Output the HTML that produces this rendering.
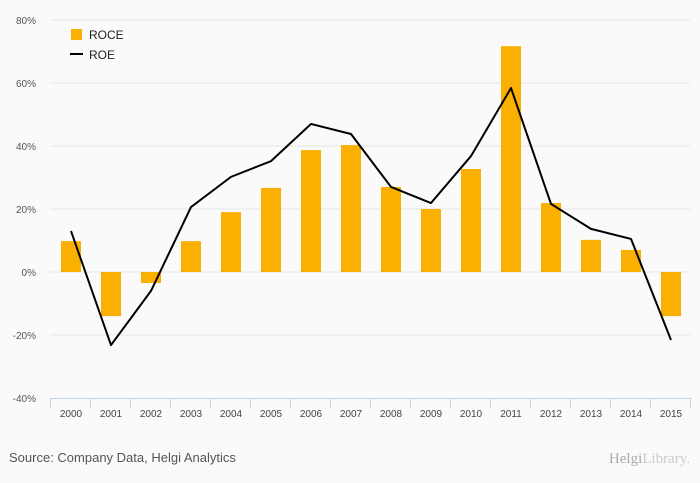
<!DOCTYPE html>
<html><head><meta charset="utf-8"><style>
body{margin:0;background:#fafafa;font-family:"Liberation Sans",sans-serif}
svg{display:block}
</style></head><body>
<svg width="700" height="483" id="c">
<rect width="700" height="483" fill="#fafafa"/>
<g id="grid"></g><g id="bars"></g><g id="line"></g><g id="axis"></g>
<g>
<rect x="71" y="29" width="11" height="11" fill="#f9b000"/>
<text x="89" y="39" font-size="12" fill="#222">ROCE</text>
<line x1="70" y1="54" x2="83" y2="54" stroke="#000" stroke-width="2"/>
<text x="89" y="59" font-size="12" fill="#222">ROE</text>
</g>
<text x="9" y="462" font-size="13" fill="#555">Source: Company Data, Helgi Analytics</text>
<text x="690" y="463" font-size="15" fill="#aaa" text-anchor="end" font-family="Liberation Serif,serif">Helgi<tspan fill="#ccc">Library.</tspan></text>
</svg>
<script>
const categories=["2000","2001","2002","2003","2004","2005","2006","2007","2008","2009","2010","2011","2012","2013","2014","2015"];
const roce=[9.8,-14,-3.5,9.8,19,26.7,38.7,40.3,27,20,32.7,71.7,21.9,10.2,7,-14];
const roe=[13,-23.2,-6,20.6,30.2,35.2,47,43.8,27,21.9,36.8,58.4,21.6,13.7,10.5,-21.6];
const yTicks=[-40,-20,0,20,40,60,80];
const yTickLabels=["-40%","-20%","0%","20%","40%","60%","80%"];
const NS="http://www.w3.org/2000/svg";
const x0=50,step=40,bw=20;
function y(v){return 272-v*3.15;}
function xc(i){return x0+step*i+step/2+1;}
function mk(t,a,p){const e=document.createElementNS(NS,t);for(const k in a)e.setAttribute(k,a[k]);p.appendChild(e);return e;}
const grid=document.getElementById('grid'),bars=document.getElementById('bars'),line=document.getElementById('line'),axis=document.getElementById('axis');
yTicks.forEach((v,i)=>{
  if(v>-40){const g=mk('line',{x1:50,x2:690,y1:y(v),y2:y(v),stroke:'#e6e6e6'},grid);
  
  }
  const t=mk('text',{x:36,y:y(v)+4,'font-size':10,fill:'#555','text-anchor':'end'},grid);
  t.textContent=yTickLabels[i];
  
  
});
roce.forEach((v,i)=>{
  const r=mk('rect',{x:xc(i)-bw/2,y:Math.min(y(v),y(0)),width:bw,height:Math.abs(y(v)-y(0)),fill:'#f9b000'},bars);
  
  
});
const p=mk('polyline',{points:roe.map((v,i)=>xc(i)+','+y(v)).join(' '),fill:'none',stroke:'#000','stroke-width':2,'stroke-linejoin':'round'},line);


const al=mk('line',{x1:50,x2:690,y1:398.5,y2:398.5,stroke:'#c5d3e8'},axis);


for(let i=0;i<=categories.length;i++){
  const tk=mk('line',{x1:x0+step*i+.5,x2:x0+step*i+.5,y1:398,y2:408,stroke:'#c5d3e8'},axis);
  
  
}
categories.forEach((c,i)=>{
  const t=mk('text',{x:xc(i),y:417,'font-size':10,fill:'#444','text-anchor':'middle'},axis);
  t.textContent=c;
  
  
});
</script>
</body></html>
